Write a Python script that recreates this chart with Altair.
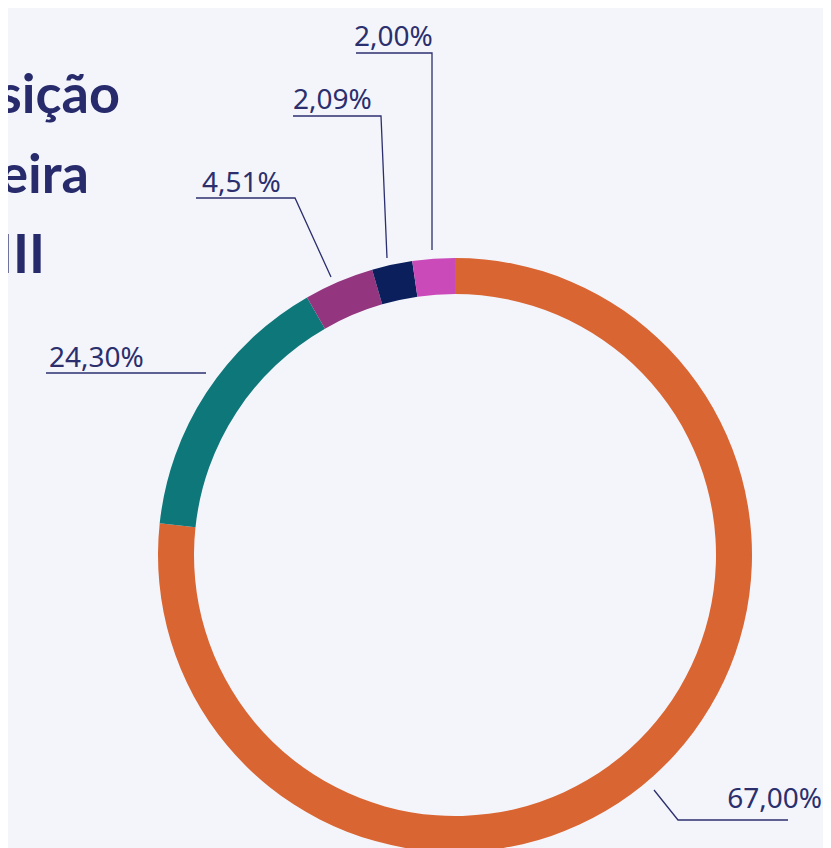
import altair as alt
import pandas as pd

W, H = 815, 840

# slices (clockwise from 12 o'clock), shares read from the ring's drawn arcs
categories = ["Categoria 1", "Categoria 2", "Categoria 3", "Categoria 4", "Categoria 5"]
shares = [76.7, 15.0, 3.8, 2.2, 2.3]
labels = ["67,00%", "24,30%", "4,51%", "2,09%", "2,00%"]
colors = ["#d96532", "#0e7779", "#93357f", "#0a1f5c", "#c94ab8"]

# label annotation positions (chart px)
lab_x = [814, 41, 194, 285, 346]
lab_y = [800, 359, 184, 101, 38]
lab_align = ["right", "left", "left", "left", "left"]

# leader polylines (chart px), one list of points per label
leader_pts = [
    [(646, 782), (670, 812), (780, 812)],
    [(38, 365), (198, 365)],
    [(188, 190), (287, 190), (323, 269)],
    [(285, 108), (373, 108), (379, 250)],
    [(348, 45), (424, 45), (424, 242)],
]

title_lines = ["Composição", "da Carteira", "FII III"]
title_x = [112, 81, 37]
title_y = [105, 185, 265]

ring = pd.DataFrame({"cat": categories, "share": shares, "idx": list(range(len(categories)))})

lab_df = pd.DataFrame({"x": lab_x, "y": lab_y, "text": labels, "align": lab_align})
rows = []
for i, pts in enumerate(leader_pts):
    for j, (px, py) in enumerate(pts):
        rows.append({"g": i, "o": j, "x": px, "y": py})
line_df = pd.DataFrame(rows)
title_df = pd.DataFrame({"text": title_lines, "x": title_x, "y": title_y})

xs = alt.Scale(domain=[0, W], range=[0, W])
ys = alt.Scale(domain=[0, H], range=[0, H])

arc = alt.Chart(ring).mark_arc(outerRadius=297, innerRadius=261).encode(
    theta=alt.Theta("share:Q", stack=True),
    color=alt.Color("cat:N", scale=alt.Scale(domain=categories, range=colors), legend=None),
    order=alt.Order("idx:Q"),
    x=alt.value(447),
    y=alt.value(547),
)

lines = alt.Chart(line_df).mark_line(color="#2b2f6e", strokeWidth=1.3).encode(
    x=alt.X("x:Q", scale=xs, axis=None),
    y=alt.Y("y:Q", scale=ys, axis=None),
    detail="g:N",
    order="o:Q",
)

txt_left = alt.Chart(lab_df[lab_df["align"] == "left"]).mark_text(
    align="left", baseline="alphabetic", font="Noto Sans", fontSize=28, color="#2b2f6e"
).encode(x=alt.X("x:Q", scale=xs, axis=None), y=alt.Y("y:Q", scale=ys, axis=None), text="text:N")

txt_right = alt.Chart(lab_df[lab_df["align"] == "right"]).mark_text(
    align="right", baseline="alphabetic", font="Noto Sans", fontSize=28, color="#2b2f6e"
).encode(x=alt.X("x:Q", scale=xs, axis=None), y=alt.Y("y:Q", scale=ys, axis=None), text="text:N")

title = alt.Chart(title_df).mark_text(
    align="right", baseline="alphabetic", font="Lato", fontSize=54, fontWeight="bold", color="#272b6b"
).encode(x=alt.X("x:Q", scale=xs, axis=None), y=alt.Y("y:Q", scale=ys, axis=None), text="text:N")

chart = alt.layer(arc, lines, txt_left, txt_right, title).properties(
    width=W, height=H, padding=0, autosize="none", background="#f4f5fb"
).configure_view(stroke=None)

chart.save("out.html", embed_options={"renderer": "svg", "actions": False})
